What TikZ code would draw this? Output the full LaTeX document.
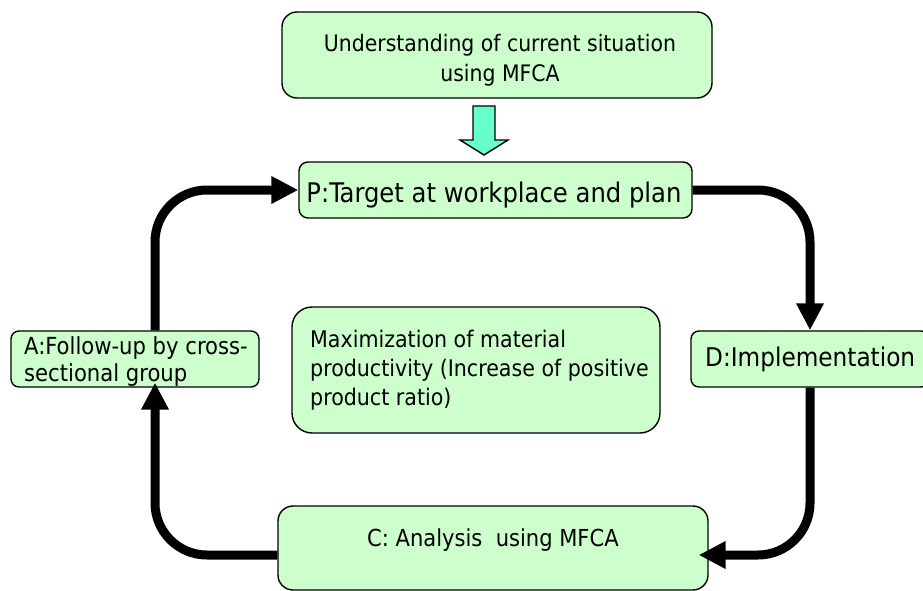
\documentclass[tikz,border=0pt]{standalone}
\usepackage{fontspec}
\setmainfont{DejaVu Sans Condensed}
\usetikzlibrary{arrows.meta,calc}
\definecolor{boxfill}{HTML}{CCFFCC}
\definecolor{pushfill}{HTML}{66FFCC}
\tikzset{
  stagebox/.style={draw=black, line width=1.4pt, fill=boxfill, inner sep=0pt},
  lbl/.style={inner sep=0pt, text=black},
  flow/.style={line width=9pt, rounded corners=52pt,
    -{Triangle[length=27pt,width=26pt]}},
}
\begin{document}
\begin{tikzpicture}[x=1pt,y=-1pt]
\useasboundingbox (0,0) rectangle (923,591);

% boxes (sized in pt, y grows downwards)
\node[stagebox, rounded corners=15pt, minimum width=430pt, minimum height=86pt] (U) at (497,55) {};
\node[stagebox, rounded corners=9pt, minimum width=393pt, minimum height=56pt] (P) at (495.5,190) {};
\node[stagebox, rounded corners=8pt, minimum width=248pt, minimum height=56pt] (A) at (135,359) {};
\node[stagebox, rounded corners=20pt, minimum width=368pt, minimum height=126pt] (M) at (476,370) {};
\node[stagebox, rounded corners=8pt, minimum width=238pt, minimum height=56pt] (D) at (810,359) {};
\node[stagebox, rounded corners=15pt, minimum width=430pt, minimum height=84pt] (C) at (493,548) {};

% texts
\node[lbl, align=center, font=\fontsize{22.7}{30}\selectfont] (Ut) at (500,60) {Understanding of current situation\\using MFCA};
\node[lbl, font=\fontsize{27}{30}\selectfont] (Pt) at (494,195) {P:Target at workplace and plan};
\node[lbl, anchor=west, align=left, font=\fontsize{23.5}{27}\selectfont] (At) at (24,362) {A:Follow-up by cross-\\sectional group};
\node[lbl, anchor=west, align=left, font=\fontsize{22.9}{29}\selectfont] (Mt) at (310,370) {Maximization of material\\productivity (Increase of positive\\product ratio)};
\node[lbl, anchor=west, font=\fontsize{25.8}{28}\selectfont] (Dt) at (705,359) {D:Implementation};
\node[lbl, font=\fontsize{23.4}{26}\selectfont] (Ct) at (493,540) {C: Analysis~~using MFCA};

% block arrow from the top box onto the plan step
\draw[line width=1.4pt, fill=pushfill, line join=miter]
  (473,106) -- (495,106) -- (495,140) -- (508,140) -- (484,155)
  -- (460,140) -- (473,140) -- cycle;

% PDCA cycle
\draw[flow] ($(A.north)+(20,0)$) |- (P.west);
\draw[flow] (P.east) -| (D.north);
\draw[flow, shorten >=-10pt] (D.south) |- ($(C.east)+(0,7)$);
\draw[flow, shorten >=-5pt] ($(C.west)+(0,7)$) -| ($(A.south)+(20,0)$);
\end{tikzpicture}
\end{document}
